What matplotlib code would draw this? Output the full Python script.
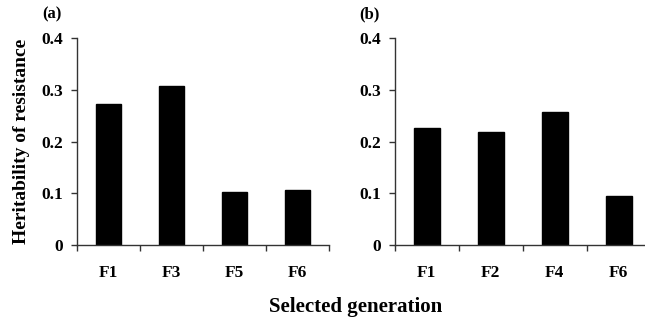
import matplotlib
matplotlib.use("Agg")
import matplotlib.pyplot as plt
import numpy as np

# panel (a)
gens_a = ["F1", "F3", "F5", "F6"]
herit_a = [0.272, 0.307, 0.102, 0.107]
# panel (b)
gens_b = ["F1", "F2", "F4", "F6"]
herit_b = [0.227, 0.219, 0.258, 0.094]
yticks = [0, 0.1, 0.2, 0.3, 0.4]
ytick_labels = ["0", "0.1", "0.2", "0.3", "0.4"]

plt.rcParams["font.family"] = ["Liberation Serif", "DejaVu Serif"]
plt.rcParams["font.weight"] = "bold"

fig = plt.figure(figsize=(6.45, 3.2), dpi=100)
ax_a = fig.add_axes([0.119, 0.234, 0.391, 0.647])
ax_b = fig.add_axes([0.612, 0.234, 0.397, 0.647])


def draw_panel(ax, gens, vals, tag):
    x = np.arange(len(gens))
    ax.bar(x, vals, width=0.4, color="black", edgecolor="black")
    ax.set_xlim(-0.5, len(gens) - 0.5)
    ax.set_ylim(0, 0.4)
    ax.set_yticks(yticks)
    ax.set_yticklabels(ytick_labels, fontsize=12.5, fontweight="bold")
    # category boundaries as major ticks, labels on minor ticks at centers
    ax.set_xticks(np.arange(len(gens) + 1) - 0.5)
    ax.set_xticklabels([])
    ax.set_xticks(x, minor=True)
    ax.set_xticklabels(gens, minor=True, fontsize=12.5, fontweight="bold")
    ax.tick_params(axis="x", which="major", direction="out", length=4, width=1, color="#333333")
    ax.tick_params(axis="x", which="minor", length=0, pad=14)
    ax.tick_params(axis="y", direction="out", length=4, width=1, color="#333333", pad=6)
    for side in ("top", "right"):
        ax.spines[side].set_visible(False)
    for side in ("left", "bottom"):
        ax.spines[side].set_color("#333333")
        ax.spines[side].set_linewidth(1.0)
    ax.text(-0.098, 1.113, tag, transform=ax.transAxes,
            fontsize=12, fontweight="bold", ha="center", va="center")


draw_panel(ax_a, gens_a, herit_a, "(a)")
draw_panel(ax_b, gens_b, herit_b, "(b)")

ax_a.set_ylabel("Heritability of resistance", fontsize=14, fontweight="bold", labelpad=8)
fig.text(0.552, 0.025, "Selected generation", fontsize=15, fontweight="bold",
         ha="center", va="baseline")

fig.savefig("out.png", dpi=100)
